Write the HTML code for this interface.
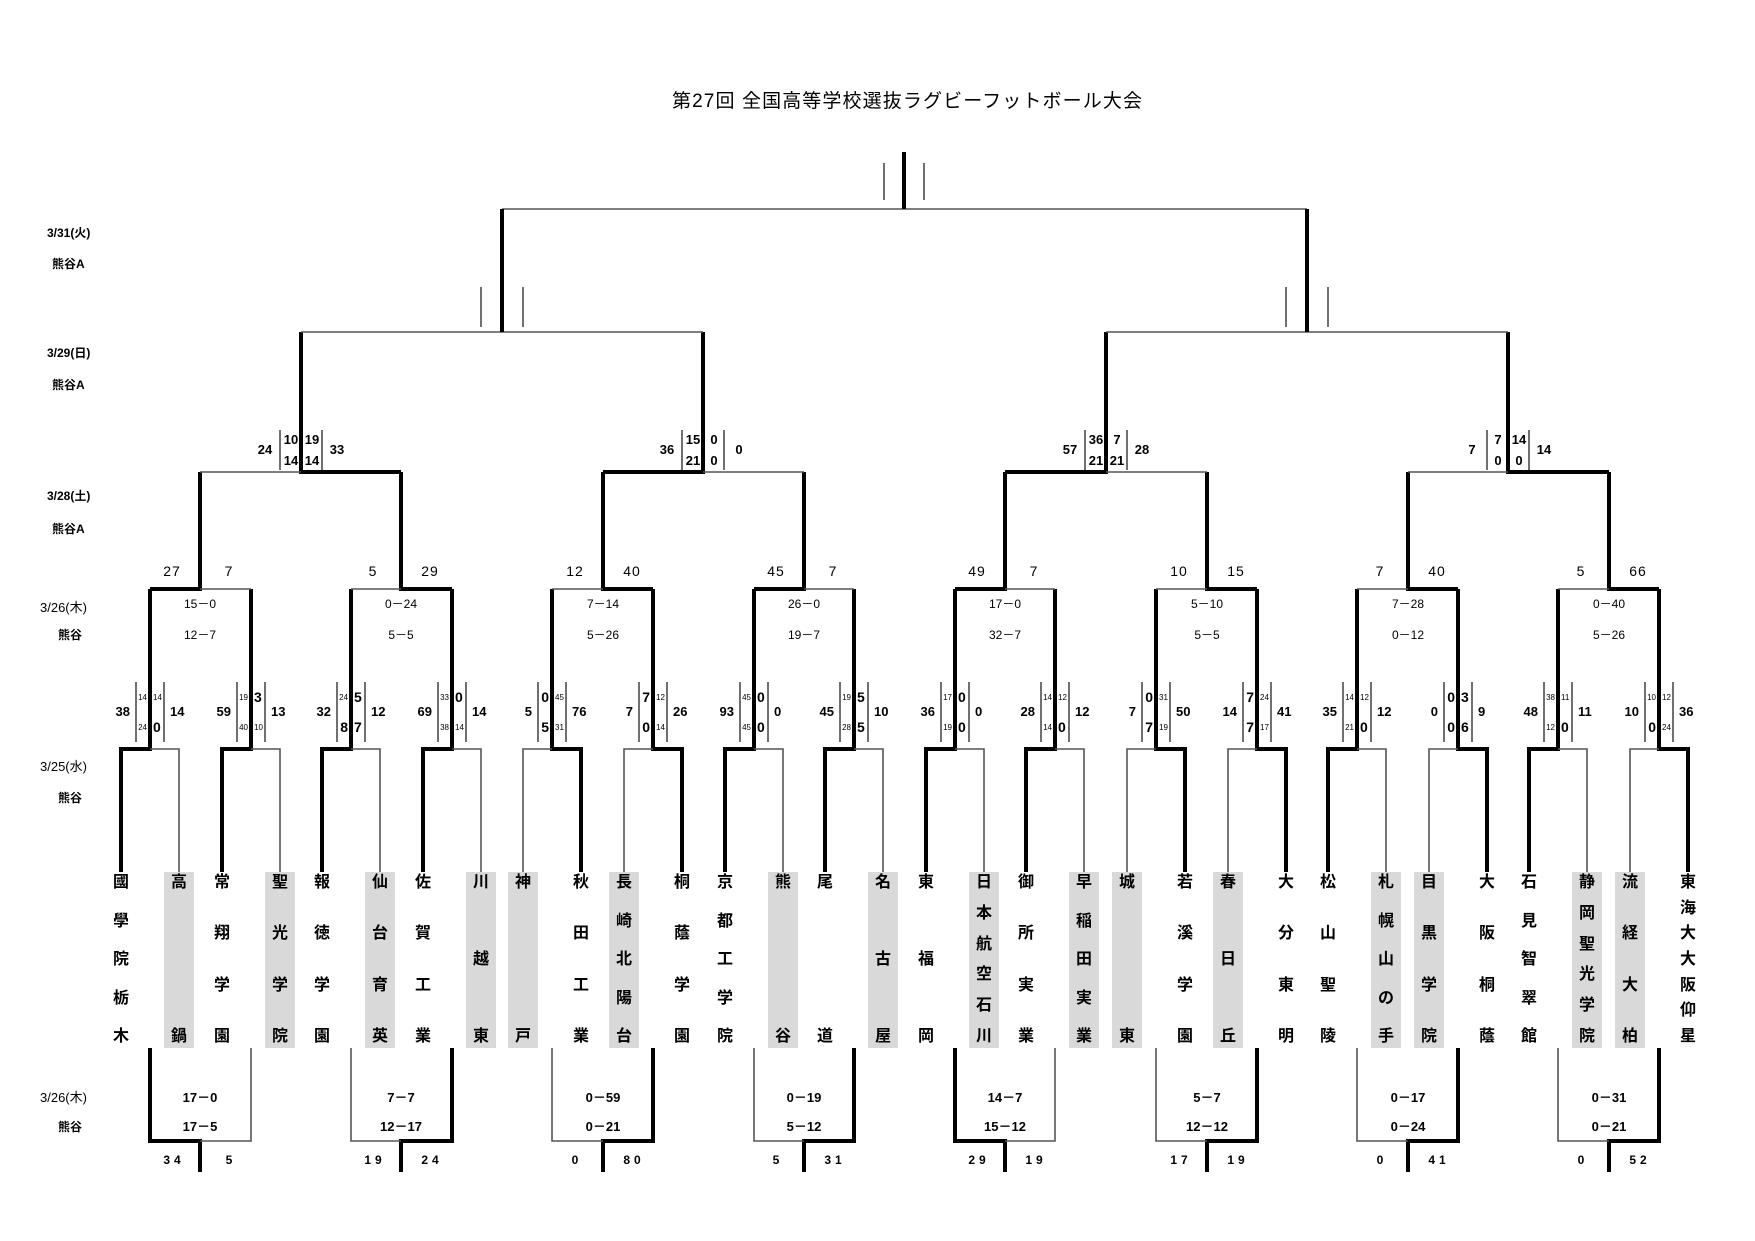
<!DOCTYPE html>
<html><head><meta charset="utf-8"><style>
html,body{margin:0;padding:0;background:#fff}
#w{position:relative;width:1755px;height:1241px;overflow:hidden;background:#fff}
svg{position:absolute;left:0;top:0}
text{font-family:"Liberation Sans","Noto Sans CJK JP",sans-serif;fill:#000}
.k{stroke:#000;stroke-width:4;fill:none}
.n{stroke:#555;stroke-width:1.6;fill:none}
.t{stroke:#333;stroke-width:1.4;fill:none}
.o{font-size:13px;font-weight:bold}
.b{font-size:14px;font-weight:bold}
.m{font-size:8px}
.e{text-anchor:end}.s{text-anchor:start}.c{text-anchor:middle}
.r2{font-size:14px;text-anchor:middle;letter-spacing:1px}
.sc{font-size:12px;text-anchor:middle}
.bs{font-size:13px;font-weight:bold;text-anchor:middle}
.bn{font-size:12px;font-weight:bold;text-anchor:middle;letter-spacing:4px}
.lb{font-size:12px;font-weight:bold}
.ln{font-size:13px}
.tm{position:absolute;top:872px;width:30px;height:176px;box-sizing:border-box;padding:3px 0;display:flex;flex-direction:column;justify-content:space-between;align-items:center;font-family:"Liberation Sans","Noto Sans CJK JP",sans-serif;font-size:16px;line-height:16px;font-weight:bold}
.tm span{display:block;height:16px}
.g{background:#d9d9d9}
</style></head><body><div id="w">
<svg width="1755" height="1241" viewBox="0 0 1755 1241">
<text x="907" y="107" text-anchor="middle" font-size="19" textLength="470">第27回 全国高等学校選抜ラグビーフットボール大会</text>
<text class="lb" x="47" y="237">3/31(火)</text><text class="lb" x="52" y="268">熊谷A</text>
<text class="lb" x="47" y="357">3/29(日)</text><text class="lb" x="52" y="389">熊谷A</text>
<text class="lb" x="47" y="500">3/28(土)</text><text class="lb" x="52" y="533">熊谷A</text>
<text class="ln" x="40" y="612">3/26(木)</text><text class="lb" x="58" y="639">熊谷</text>
<text class="ln" x="40" y="771">3/25(水)</text><text class="lb" x="58" y="802">熊谷</text>
<text class="ln" x="40" y="1102">3/26(木)</text><text class="lb" x="58" y="1131">熊谷</text>
<path class="k" d="M121 872V749H150V589M222 872V749H251V589M322 872V749H351V589M423 872V749H452V589M581 872V749H552V589M682 872V749H653V589M725 872V749H754V589M825 872V749H854V589M926 872V749H955V589M1026 872V749H1055V589M1185 872V749H1156V589M1286 872V749H1257V589M1328 872V749H1357V589M1487 872V749H1458V589M1529 872V749H1558V589M1688 872V749H1659V589"/>
<path class="n" d="M150 749H179V872M251 749H280V872M351 749H380V872M452 749H481V872M552 749H523V872M653 749H624V872M754 749H783V872M854 749H883V872M955 749H984V872M1055 749H1084V872M1156 749H1127V872M1257 749H1228V872M1357 749H1386V872M1458 749H1429V872M1558 749H1587V872M1659 749H1630V872"/>
<path class="k" d="M150 589H200V472M452 589H401V472M653 589H603V472M754 589H804V472M955 589H1005V472M1257 589H1207V472M1458 589H1408V472M1659 589H1609V472"/>
<path class="n" d="M200 589H251M401 589H351M603 589H552M804 589H854M1005 589H1055M1207 589H1156M1408 589H1357M1609 589H1558"/>
<path class="k" d="M401 472H301V332M603 472H703V332M1005 472H1106V332M1609 472H1508V332"/>
<path class="n" d="M301 472H200M703 472H804M1106 472H1207M1508 472H1408"/>
<path class="n" d="M301 332H703M1106 332H1508M502 209H1307"/>
<path class="k" d="M502 332V209M1307 332V209M904 209V152"/>
<path class="k" d="M150 1048V1141H200V1172M452 1048V1141H401V1172M653 1048V1141H603V1172M854 1048V1141H804V1172M955 1048V1141H1005V1172M1257 1048V1141H1207V1172M1458 1048V1141H1408V1172M1659 1048V1141H1609V1172"/>
<path class="n" d="M200 1141H251V1048M401 1141H351V1048M603 1141H552V1048M804 1141H754V1048M1005 1141H1055V1048M1207 1141H1156V1048M1408 1141H1357V1048M1609 1141H1558V1048"/>
<path class="t" d="M136 682V742M164 682V742M237 682V742M265 682V742M337 682V742M365 682V742M438 682V742M466 682V742M538 682V742M566 682V742M639 682V742M667 682V742M740 682V742M768 682V742M840 682V742M868 682V742M941 682V742M969 682V742M1041 682V742M1069 682V742M1142 682V742M1170 682V742M1243 682V742M1271 682V742M1343 682V742M1371 682V742M1444 682V742M1472 682V742M1544 682V742M1572 682V742M1645 682V742M1673 682V742"/>
<path class="t" d="M280 430V470M322 430V470M682 430V470M724 430V470M1085 430V470M1127 430V470M1487 430V470M1529 430V470"/>
<path class="t" d="M481 287V327M523 287V327M1286 287V327M1328 287V327M884 163V200M924 163V200"/>
<text class="o e" x="130" y="716">38</text><text class="m e" x="147" y="700">14</text><text class="m e" x="147" y="730">24</text><text class="m s" x="153" y="700">14</text><text class="b s" x="153" y="732">0</text><text class="o s" x="170" y="716">14</text>
<text class="o e" x="231" y="716">59</text><text class="m e" x="248" y="700">19</text><text class="m e" x="248" y="730">40</text><text class="b s" x="254" y="702">3</text><text class="m s" x="254" y="730">10</text><text class="o s" x="271" y="716">13</text>
<text class="o e" x="331" y="716">32</text><text class="m e" x="348" y="700">24</text><text class="b e" x="348" y="732">8</text><text class="b s" x="354" y="702">5</text><text class="b s" x="354" y="732">7</text><text class="o s" x="371" y="716">12</text>
<text class="o e" x="432" y="716">69</text><text class="m e" x="449" y="700">33</text><text class="m e" x="449" y="730">38</text><text class="b s" x="455" y="702">0</text><text class="m s" x="455" y="730">14</text><text class="o s" x="472" y="716">14</text>
<text class="o e" x="532" y="716">5</text><text class="b e" x="549" y="702">0</text><text class="b e" x="549" y="732">5</text><text class="m s" x="555" y="700">45</text><text class="m s" x="555" y="730">31</text><text class="o s" x="572" y="716">76</text>
<text class="o e" x="633" y="716">7</text><text class="b e" x="650" y="702">7</text><text class="b e" x="650" y="732">0</text><text class="m s" x="656" y="700">12</text><text class="m s" x="656" y="730">14</text><text class="o s" x="673" y="716">26</text>
<text class="o e" x="734" y="716">93</text><text class="m e" x="751" y="700">45</text><text class="m e" x="751" y="730">45</text><text class="b s" x="757" y="702">0</text><text class="b s" x="757" y="732">0</text><text class="o s" x="774" y="716">0</text>
<text class="o e" x="834" y="716">45</text><text class="m e" x="851" y="700">19</text><text class="m e" x="851" y="730">28</text><text class="b s" x="857" y="702">5</text><text class="b s" x="857" y="732">5</text><text class="o s" x="874" y="716">10</text>
<text class="o e" x="935" y="716">36</text><text class="m e" x="952" y="700">17</text><text class="m e" x="952" y="730">19</text><text class="b s" x="958" y="702">0</text><text class="b s" x="958" y="732">0</text><text class="o s" x="975" y="716">0</text>
<text class="o e" x="1035" y="716">28</text><text class="m e" x="1052" y="700">14</text><text class="m e" x="1052" y="730">14</text><text class="m s" x="1058" y="700">12</text><text class="b s" x="1058" y="732">0</text><text class="o s" x="1075" y="716">12</text>
<text class="o e" x="1136" y="716">7</text><text class="b e" x="1153" y="702">0</text><text class="b e" x="1153" y="732">7</text><text class="m s" x="1159" y="700">31</text><text class="m s" x="1159" y="730">19</text><text class="o s" x="1176" y="716">50</text>
<text class="o e" x="1237" y="716">14</text><text class="b e" x="1254" y="702">7</text><text class="b e" x="1254" y="732">7</text><text class="m s" x="1260" y="700">24</text><text class="m s" x="1260" y="730">17</text><text class="o s" x="1277" y="716">41</text>
<text class="o e" x="1337" y="716">35</text><text class="m e" x="1354" y="700">14</text><text class="m e" x="1354" y="730">21</text><text class="m s" x="1360" y="700">12</text><text class="b s" x="1360" y="732">0</text><text class="o s" x="1377" y="716">12</text>
<text class="o e" x="1438" y="716">0</text><text class="b e" x="1455" y="702">0</text><text class="b e" x="1455" y="732">0</text><text class="b s" x="1461" y="702">3</text><text class="b s" x="1461" y="732">6</text><text class="o s" x="1478" y="716">9</text>
<text class="o e" x="1538" y="716">48</text><text class="m e" x="1555" y="700">38</text><text class="m e" x="1555" y="730">12</text><text class="m s" x="1561" y="700">11</text><text class="b s" x="1561" y="732">0</text><text class="o s" x="1578" y="716">11</text>
<text class="o e" x="1639" y="716">10</text><text class="m e" x="1656" y="700">10</text><text class="b e" x="1656" y="732">0</text><text class="m s" x="1662" y="700">12</text><text class="m s" x="1662" y="730">24</text><text class="o s" x="1679" y="716">36</text>
<text class="r2" x="172" y="576">27</text><text class="r2" x="229" y="576">7</text><text class="sc" x="200" y="608">15－0</text><text class="sc" x="200" y="639">12－7</text>
<text class="r2" x="373" y="576">5</text><text class="r2" x="430" y="576">29</text><text class="sc" x="401" y="608">0－24</text><text class="sc" x="401" y="639">5－5</text>
<text class="r2" x="575" y="576">12</text><text class="r2" x="632" y="576">40</text><text class="sc" x="603" y="608">7－14</text><text class="sc" x="603" y="639">5－26</text>
<text class="r2" x="776" y="576">45</text><text class="r2" x="833" y="576">7</text><text class="sc" x="804" y="608">26－0</text><text class="sc" x="804" y="639">19－7</text>
<text class="r2" x="977" y="576">49</text><text class="r2" x="1034" y="576">7</text><text class="sc" x="1005" y="608">17－0</text><text class="sc" x="1005" y="639">32－7</text>
<text class="r2" x="1179" y="576">10</text><text class="r2" x="1236" y="576">15</text><text class="sc" x="1207" y="608">5－10</text><text class="sc" x="1207" y="639">5－5</text>
<text class="r2" x="1380" y="576">7</text><text class="r2" x="1437" y="576">40</text><text class="sc" x="1408" y="608">7－28</text><text class="sc" x="1408" y="639">0－12</text>
<text class="r2" x="1581" y="576">5</text><text class="r2" x="1638" y="576">66</text><text class="sc" x="1609" y="608">0－40</text><text class="sc" x="1609" y="639">5－26</text>
<text class="o c" x="265" y="454">24</text><text class="o c" x="291" y="444">10</text><text class="o c" x="291" y="465">14</text><text class="o c" x="312" y="444">19</text><text class="o c" x="312" y="465">14</text><text class="o c" x="337" y="454">33</text>
<text class="o c" x="667" y="454">36</text><text class="o c" x="693" y="444">15</text><text class="o c" x="693" y="465">21</text><text class="o c" x="714" y="444">0</text><text class="o c" x="714" y="465">0</text><text class="o c" x="739" y="454">0</text>
<text class="o c" x="1070" y="454">57</text><text class="o c" x="1096" y="444">36</text><text class="o c" x="1096" y="465">21</text><text class="o c" x="1117" y="444">7</text><text class="o c" x="1117" y="465">21</text><text class="o c" x="1142" y="454">28</text>
<text class="o c" x="1472" y="454">7</text><text class="o c" x="1498" y="444">7</text><text class="o c" x="1498" y="465">0</text><text class="o c" x="1519" y="444">14</text><text class="o c" x="1519" y="465">0</text><text class="o c" x="1544" y="454">14</text>
<text class="bs" x="200" y="1102">17－0</text><text class="bs" x="200" y="1131">17－5</text><text class="bn" x="174" y="1164">34</text><text class="bn" x="231" y="1164">5</text>
<text class="bs" x="401" y="1102">7－7</text><text class="bs" x="401" y="1131">12－17</text><text class="bn" x="375" y="1164">19</text><text class="bn" x="432" y="1164">24</text>
<text class="bs" x="603" y="1102">0－59</text><text class="bs" x="603" y="1131">0－21</text><text class="bn" x="577" y="1164">0</text><text class="bn" x="634" y="1164">80</text>
<text class="bs" x="804" y="1102">0－19</text><text class="bs" x="804" y="1131">5－12</text><text class="bn" x="778" y="1164">5</text><text class="bn" x="835" y="1164">31</text>
<text class="bs" x="1005" y="1102">14－7</text><text class="bs" x="1005" y="1131">15－12</text><text class="bn" x="979" y="1164">29</text><text class="bn" x="1036" y="1164">19</text>
<text class="bs" x="1207" y="1102">5－7</text><text class="bs" x="1207" y="1131">12－12</text><text class="bn" x="1181" y="1164">17</text><text class="bn" x="1238" y="1164">19</text>
<text class="bs" x="1408" y="1102">0－17</text><text class="bs" x="1408" y="1131">0－24</text><text class="bn" x="1382" y="1164">0</text><text class="bn" x="1439" y="1164">41</text>
<text class="bs" x="1609" y="1102">0－31</text><text class="bs" x="1609" y="1131">0－21</text><text class="bn" x="1583" y="1164">0</text><text class="bn" x="1640" y="1164">52</text>
</svg>
<div class="tm" style="left:106px"><span>國</span><span>學</span><span>院</span><span>栃</span><span>木</span></div>
<div class="tm g" style="left:164px"><span>高</span><span>鍋</span></div>
<div class="tm" style="left:207px"><span>常</span><span>翔</span><span>学</span><span>園</span></div>
<div class="tm g" style="left:265px"><span>聖</span><span>光</span><span>学</span><span>院</span></div>
<div class="tm" style="left:307px"><span>報</span><span>徳</span><span>学</span><span>園</span></div>
<div class="tm g" style="left:365px"><span>仙</span><span>台</span><span>育</span><span>英</span></div>
<div class="tm" style="left:408px"><span>佐</span><span>賀</span><span>工</span><span>業</span></div>
<div class="tm g" style="left:466px"><span>川</span><span>越</span><span>東</span></div>
<div class="tm g" style="left:508px"><span>神</span><span>戸</span></div>
<div class="tm" style="left:566px"><span>秋</span><span>田</span><span>工</span><span>業</span></div>
<div class="tm g" style="left:609px"><span>長</span><span>崎</span><span>北</span><span>陽</span><span>台</span></div>
<div class="tm" style="left:667px"><span>桐</span><span>蔭</span><span>学</span><span>園</span></div>
<div class="tm" style="left:710px"><span>京</span><span>都</span><span>工</span><span>学</span><span>院</span></div>
<div class="tm g" style="left:768px"><span>熊</span><span>谷</span></div>
<div class="tm" style="left:810px"><span>尾</span><span>道</span></div>
<div class="tm g" style="left:868px"><span>名</span><span>古</span><span>屋</span></div>
<div class="tm" style="left:911px"><span>東</span><span>福</span><span>岡</span></div>
<div class="tm g" style="left:969px"><span>日</span><span>本</span><span>航</span><span>空</span><span>石</span><span>川</span></div>
<div class="tm" style="left:1011px"><span>御</span><span>所</span><span>実</span><span>業</span></div>
<div class="tm g" style="left:1069px"><span>早</span><span>稲</span><span>田</span><span>実</span><span>業</span></div>
<div class="tm g" style="left:1112px"><span>城</span><span>東</span></div>
<div class="tm" style="left:1170px"><span>若</span><span>溪</span><span>学</span><span>園</span></div>
<div class="tm g" style="left:1213px"><span>春</span><span>日</span><span>丘</span></div>
<div class="tm" style="left:1271px"><span>大</span><span>分</span><span>東</span><span>明</span></div>
<div class="tm" style="left:1313px"><span>松</span><span>山</span><span>聖</span><span>陵</span></div>
<div class="tm g" style="left:1371px"><span>札</span><span>幌</span><span>山</span><span>の</span><span>手</span></div>
<div class="tm g" style="left:1414px"><span>目</span><span>黒</span><span>学</span><span>院</span></div>
<div class="tm" style="left:1472px"><span>大</span><span>阪</span><span>桐</span><span>蔭</span></div>
<div class="tm" style="left:1514px"><span>石</span><span>見</span><span>智</span><span>翠</span><span>館</span></div>
<div class="tm g" style="left:1572px"><span>静</span><span>岡</span><span>聖</span><span>光</span><span>学</span><span>院</span></div>
<div class="tm g" style="left:1615px"><span>流</span><span>経</span><span>大</span><span>柏</span></div>
<div class="tm" style="left:1673px"><span>東</span><span>海</span><span>大</span><span>大</span><span>阪</span><span>仰</span><span>星</span></div>
</div></body></html>
